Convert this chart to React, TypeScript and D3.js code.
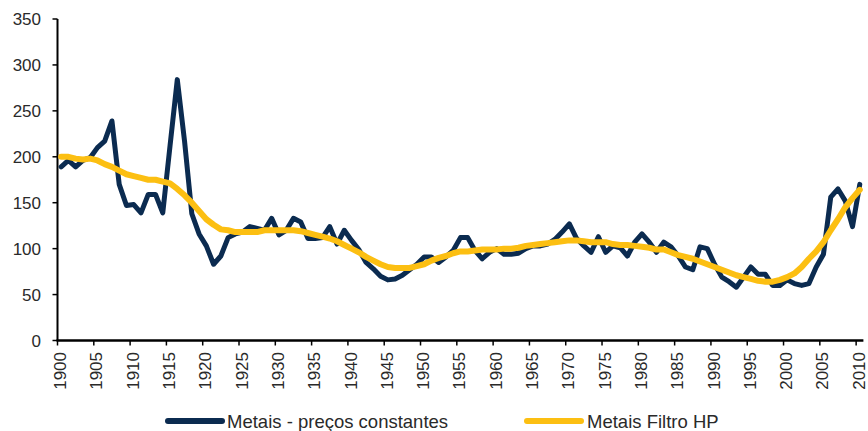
import React from 'react';
import * as d3 from 'd3';

// categories
const years = d3.range(1900, 2011);

// Metais - preços constantes
const metaisPrecos = [
  189, 196, 189, 196, 199, 210, 217, 239, 170, 147,
  148, 139, 159, 159, 139, 212, 284, 217, 138, 116,
  103, 83, 92, 112, 116, 118, 124, 122, 120, 133,
  115, 120, 133, 129, 111, 111, 112, 124, 105, 120,
  109, 99, 85, 78, 70, 66, 67, 71, 77, 83,
  91, 91, 85, 91, 98, 112, 112, 98, 89, 96,
  100, 94, 94, 95, 100, 103, 103, 105, 110, 118,
  127, 111, 103, 96, 113, 96, 103, 101, 92, 107,
  116, 107, 96, 107, 102, 92, 80, 77, 102, 100,
  83, 69, 64, 58, 69, 80, 72, 72, 60, 60,
  66, 62, 60, 62, 80, 94, 156, 165, 152, 124, 170,
];

// Metais Filtro HP
const metaisHP = [
  200, 200, 198, 197, 198, 196, 192, 189, 185, 181,
  179, 177, 175, 175, 173, 171, 165, 158, 150, 141,
  132, 126, 121, 120, 118, 118, 118, 118, 120, 120,
  120, 120, 120, 119, 117, 115, 113, 111, 108, 104,
  100, 96, 91, 87, 83, 80, 79, 79, 79, 81,
  83, 87, 90, 92, 95, 97, 97, 98, 99, 99,
  99, 100, 100, 101, 103, 104, 105, 106, 107, 108,
  109, 109, 108, 107, 107, 107, 105, 104, 104, 103,
  102, 101, 99, 99, 96, 93, 91, 89, 86, 83,
  80, 77, 74, 71, 69, 67, 65, 64, 64, 66,
  69, 73, 80, 89, 97, 107, 120, 132, 145, 155, 164,
];

const yTicks = [0, 50, 100, 150, 200, 250, 300, 350];
const xTickYears = years.filter((y) => y % 5 === 0);

const NAVY = '#0b2b50';
const GOLD = '#fcbf12';
const TEXT = '#2a2a2a';
const FONT = '"Liberation Sans", Arial, sans-serif';

const App = () => {
  const width = 868;
  const height = 431;

  const x = d3.scaleBand<number>().domain(years).range([57.5, 863.4]).padding(0);
  const y = d3.scaleLinear().domain([0, 350]).range([340.5, 19]);
  const cx = (yr: number) => (x(yr) as number) + x.bandwidth() / 2;

  const line = d3
    .line<number>()
    .x((_, i) => cx(years[i]))
    .y((d) => y(d));

  return (
    <svg
      width={width}
      height={height}
      style={{ position: 'absolute', left: 0, top: 0, background: '#fff' }}
      fontFamily={FONT}
    >
      {/* y axis */}
      <line x1={57.5} x2={57.5} y1={y(350)} y2={y(0)} stroke="#000" strokeWidth={2} />
      {yTicks.map((t) => (
        <g key={t}>
          <line x1={52.5} x2={57.5} y1={y(t)} y2={y(t)} stroke="#000" strokeWidth={1.5} />
          <text x={41} y={y(t)} dy="0.36em" textAnchor="end" fontSize={17} fill={TEXT}>
            {t}
          </text>
        </g>
      ))}

      {/* x axis */}
      <line x1={56.5} x2={863.4} y1={y(0)} y2={y(0)} stroke="#000" strokeWidth={2.5} />
      {xTickYears.map((yr) => {
        const tx = x(yr) as number;
        return (
          <g key={yr}>
            <line x1={tx} x2={tx} y1={y(0)} y2={y(0) + 5} stroke="#000" strokeWidth={1.5} />
            <text
              transform={`translate(${tx + 2.5},352) rotate(-90)`}
              dy="0.36em"
              textAnchor="end"
              fontSize={17}
              fill={TEXT}
            >
              {yr}
            </text>
          </g>
        );
      })}

      {/* series */}
      <path
        d={line(metaisPrecos) || ''}
        fill="none"
        stroke={NAVY}
        strokeWidth={5}
        strokeLinejoin="round"
        strokeLinecap="round"
      />
      <path
        d={line(metaisHP) || ''}
        fill="none"
        stroke={GOLD}
        strokeWidth={6}
        strokeLinejoin="round"
        strokeLinecap="round"
      />

      {/* legend */}
      <line x1={168} x2={222} y1={421} y2={421} stroke={NAVY} strokeWidth={6} strokeLinecap="round" />
      <text x={227} y={421} dy="0.36em" fontSize={18.5} fill={TEXT}>
        Metais - preços constantes
      </text>
      <line x1={527} x2={581} y1={421} y2={421} stroke={GOLD} strokeWidth={6} strokeLinecap="round" />
      <text x={587} y={421} dy="0.36em" fontSize={18.5} fill={TEXT}>
        Metais Filtro HP
      </text>
    </svg>
  );
};

export default App;
